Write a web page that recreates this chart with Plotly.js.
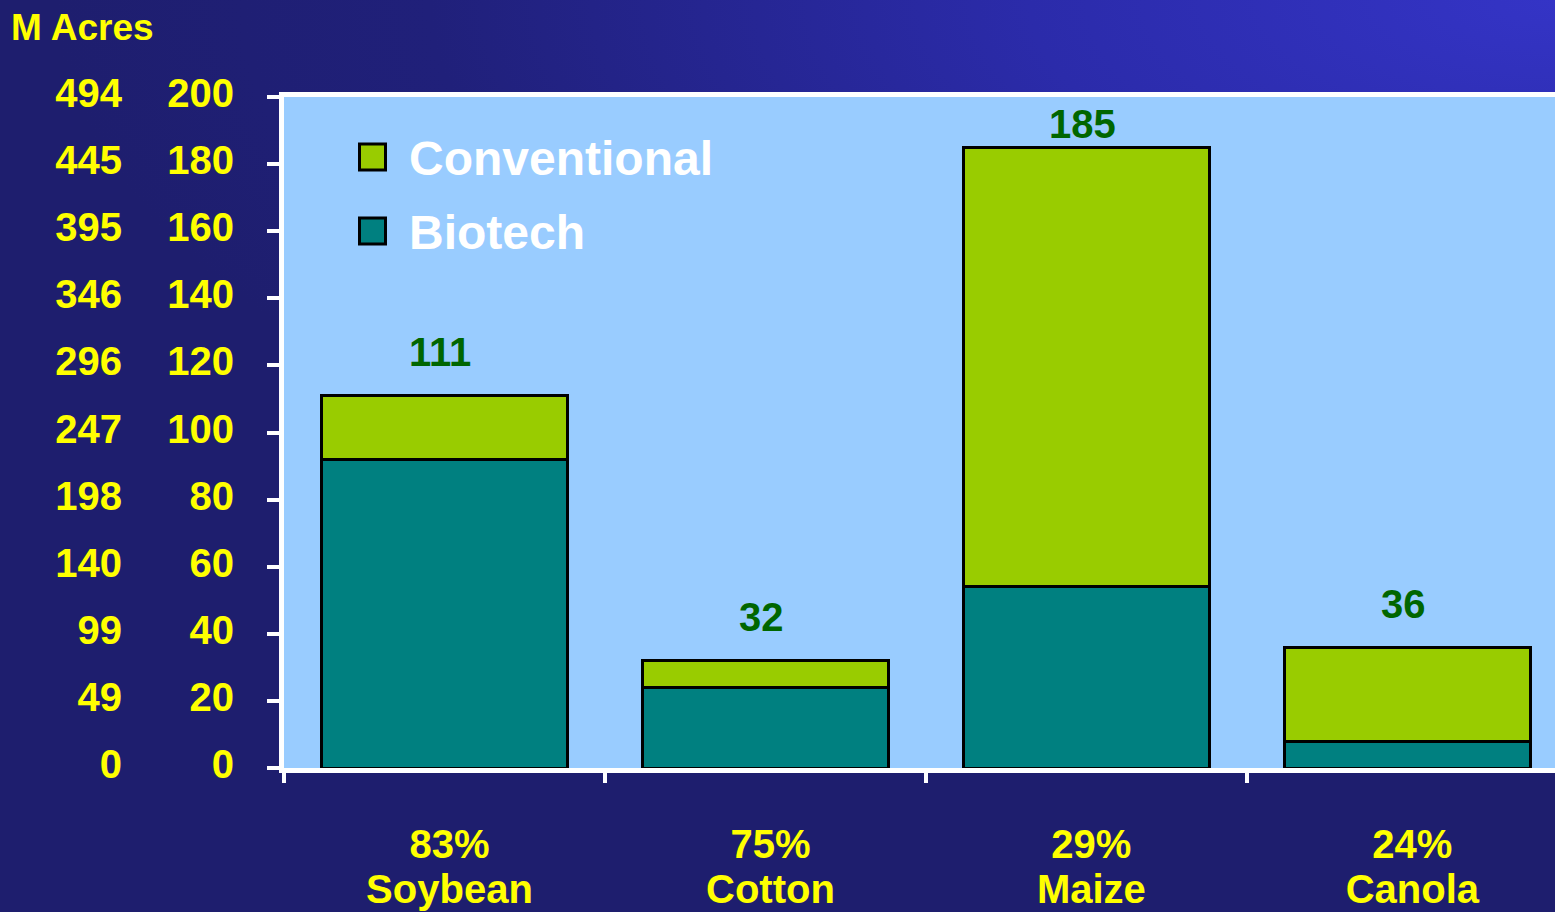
<!DOCTYPE html>
<html>
<head>
<meta charset="utf-8">
<script src="https://cdn.plot.ly/plotly-3.0.1.min.js"></script>
<style>
  html, body { margin: 0; padding: 0; width: 1555px; height: 912px; overflow: hidden; }
  body {
    background: radial-gradient(ellipse 1500px 620px at 100% 0%, #3434c6 0%, #2b2baa 35%, #20207a 75%, #1e1e6e 100%);
  }
  #chart { width: 1555px; height: 912px; }
</style>
</head>
<body>
<div id="chart"></div>
<script>
// ---- data ----
const crops = ["Soybean", "Cotton", "Maize", "Canola"];
const totalArea = [111, 32, 185, 36];          // M hectares
const biotechArea = [92, 24, 54, 8];           // M hectares
const biotechShare = ["83%", "75%", "29%", "24%"];
const hectareTicks = [0, 20, 40, 60, 80, 100, 120, 140, 160, 180, 200];
const acreTickLabels = ["0", "49", "99", "140", "198", "247", "296", "346", "395", "445", "494"];
const seriesNames = ["Conventional", "Biotech"];
const seriesColors = ["#99cc00", "#008080"];

const conventionalArea = totalArea.map((t, i) => t - biotechArea[i]);
const idx = crops.map((_, i) => i);

const FONT = "Liberation Sans, Arial, sans-serif";
const W = 1555, H = 912, MT = 97, MB = 144;
const plotH = H - MT - MB;
const px = v => v / W;
const py = v => (H - MB - v) / plotH;

const outline = { color: "#000000", width: 3 };
const yellowFont = { family: FONT, size: 40, color: "#ffff00", weight: "bold" };

const traces = [
  {
    type: "bar", name: seriesNames[1], x: idx, y: biotechArea,
    marker: { color: seriesColors[1], line: outline }, width: 0.765,
    showlegend: false, hoverinfo: "skip"
  },
  {
    type: "bar", name: seriesNames[0], x: idx, y: conventionalArea,
    marker: { color: seriesColors[0], line: outline }, width: 0.765,
    showlegend: false, hoverinfo: "skip"
  },
  {
    type: "scatter", x: [0], y: [0], xaxis: "x2", yaxis: "y2", mode: "markers",
    marker: { opacity: 0 }, showlegend: false, hoverinfo: "skip"
  }
];

const annotations = totalArea.map((t, i) => ({
  x: i, y: Math.min(t + 13, 192), xref: "x", yref: "y",
  text: String(t), showarrow: false, xshift: -4,
  xanchor: "center", yanchor: "middle",
  font: { family: FONT, size: 40, color: "#006600", weight: "bold" }
}));

annotations.push({
  x: px(9), y: py(27), xref: "paper", yref: "paper",
  text: "M Acres", showarrow: false, xanchor: "left", yanchor: "middle",
  font: { family: FONT, size: 37, color: "#ffff00", weight: "bold" }
});

// legend (drawn manually so the swatches can be large)
const legendRows = [157, 231];
const shapes = [];
seriesNames.forEach((name, k) => {
  const cy = legendRows[k];
  shapes.push({
    type: "rect", xref: "paper", yref: "paper",
    x0: px(359.5), x1: px(385.5), y0: py(cy - 13), y1: py(cy + 13),
    fillcolor: seriesColors[k], line: { color: "#000000", width: 3 }
  });
  annotations.push({
    x: px(407), y: py(cy + 1), xref: "paper", yref: "paper",
    text: name, showarrow: false, xanchor: "left", yanchor: "middle",
    font: { family: FONT, size: 48, color: "#ffffff", weight: "bold" }
  });
});

const layout = {
  width: W, height: H,
  margin: { l: 0, r: 0, t: MT, b: MB, pad: 0 },
  paper_bgcolor: "rgba(0,0,0,0)",
  plot_bgcolor: "#99ccff",
  barmode: "stack",
  showlegend: false,
  hovermode: false,
  xaxis: {
    type: "category",
    domain: [px(284), 1],
    range: [-0.5, 3.46],
    tickmode: "array",
    tickvals: idx,
    ticktext: crops,
    tickson: "boundaries",
    ticks: "outside", ticklen: 10, tickwidth: 4, tickcolor: "#ffffff",
    showline: true, linecolor: "#ffffff", linewidth: 5, mirror: true,
    showgrid: false, zeroline: false,
    ticklabelstandoff: 82,
    ticklabelshift: 5,
    tickfont: yellowFont,
    fixedrange: true
  },
  xaxis2: {
    type: "category",
    overlaying: "x", anchor: "y", side: "bottom",
    domain: [px(284), 1],
    range: [-0.5, 3.46],
    tickmode: "array",
    tickvals: idx,
    ticktext: biotechShare,
    ticks: "", showline: false, showgrid: false, zeroline: false,
    ticklabelstandoff: 49,
    ticklabelshift: 5,
    tickfont: yellowFont,
    fixedrange: true
  },
  yaxis: {
    range: [0, 200],
    tickmode: "array", tickvals: hectareTicks, ticktext: hectareTicks.map(String),
    ticks: "outside", ticklen: 12, tickwidth: 4, tickcolor: "#ffffff",
    showline: true, linecolor: "#ffffff", linewidth: 5,
    showgrid: false, zeroline: false,
    ticklabelstandoff: 25,
    ticklabelshift: -4,
    tickfont: yellowFont,
    fixedrange: true
  },
  yaxis2: {
    overlaying: "y", anchor: "free", side: "left", position: px(122),
    range: [0, 200],
    tickmode: "array", tickvals: hectareTicks, ticktext: acreTickLabels,
    ticks: "", showline: false, showgrid: false, zeroline: false,
    ticklabelshift: -4,
    tickfont: yellowFont,
    fixedrange: true
  },
  annotations: annotations,
  shapes: shapes
};

Plotly.newPlot("chart", traces, layout, { displayModeBar: false, staticPlot: true });
</script>
</body>
</html>
